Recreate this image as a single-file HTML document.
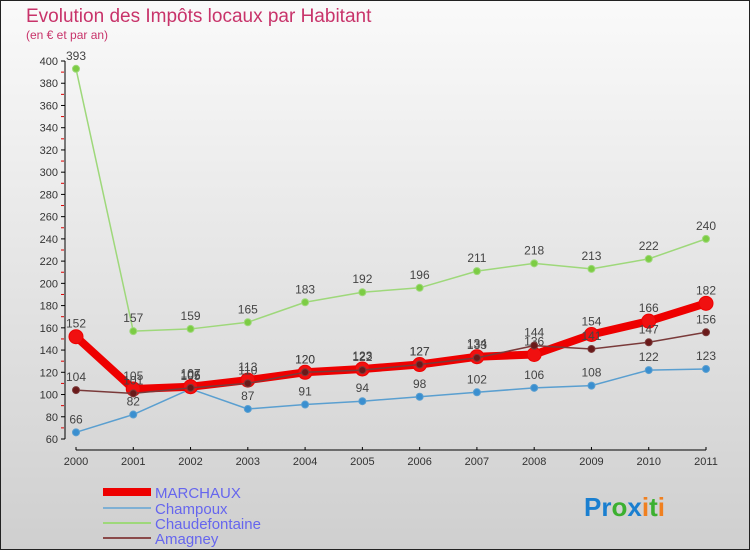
<!DOCTYPE html>
<html><head><meta charset="utf-8"><style>
html,body{margin:0;padding:0}
body{width:750px;height:550px;overflow:hidden;font-family:"Liberation Sans",sans-serif}
svg text{font-family:"Liberation Sans",sans-serif}
</style></head><body>
<svg id="chart" width="750" height="550" xmlns="http://www.w3.org/2000/svg">
<defs><linearGradient id="bg" x1="0" y1="0" x2="0" y2="1"><stop offset="0" stop-color="#fafafa"/><stop offset="1" stop-color="#cfcfcf"/></linearGradient></defs>
<rect x="0.5" y="0.5" width="749" height="549" fill="url(#bg)" stroke="#222" stroke-width="1"/>
<text x="26" y="22" font-size="19" fill="#c8336a">Evolution des Impôts locaux par Habitant</text>
<text x="26" y="39" font-size="12" fill="#c8336a">(en € et par an)</text>
<g id="axes"></g>
<g id="series"></g>
<g id="legend">
<line x1="103" y1="492" x2="151" y2="492" stroke="#e00" stroke-width="8"/>
<text x="155" y="498" font-size="15" fill="#6666ee">MARCHAUX</text>
<line x1="103" y1="508" x2="151" y2="508" stroke="#7fb0d4" stroke-width="2"/>
<text x="155" y="514" font-size="15" fill="#6666ee">Champoux</text>
<line x1="103" y1="523" x2="151" y2="523" stroke="#9ed87a" stroke-width="2"/>
<text x="155" y="529" font-size="15" fill="#6666ee">Chaudefontaine</text>
<line x1="103" y1="538" x2="151" y2="538" stroke="#8a4a4a" stroke-width="2"/>
<text x="155" y="544" font-size="15" fill="#6666ee">Amagney</text>
</g>
<text x="584" y="516" font-size="26" font-weight="bold"><tspan fill="#1a7fd0">Pr</tspan><tspan fill="#3cb030">o</tspan><tspan fill="#1a7fd0">x</tspan><tspan fill="#f08020">i</tspan><tspan fill="#3cb030">t</tspan><tspan fill="#f08020">i</tspan></text>
</svg>
<script>
const years=["2000","2001","2002","2003","2004","2005","2006","2007","2008","2009","2010","2011"];
const yTicks=[60,80,100,120,140,160,180,200,220,240,260,280,300,320,340,360,380,400];
const marchaux=[152,105,107,113,120,123,127,134,136,154,166,182];
const champoux=[66,82,105,87,91,94,98,102,106,108,122,123];
const chaudefontaine=[393,157,159,165,183,192,196,211,218,213,222,240];
const amagney=[104,101,106,110,120,122,127,133,144,141,147,156];
const NS="http://www.w3.org/2000/svg";
function x(i){return 76+i*(630/(years.length-1));}
function y(v){return 439-(v-60)*(378/340);}
function mk(tag,attrs,parent){const e=document.createElementNS(NS,tag);for(const k in attrs)e.setAttribute(k,attrs[k]);parent.appendChild(e);return e;}
const axes=document.getElementById('axes');
const ya=mk('line',{x1:65,y1:y(400),x2:65,y2:y(60),stroke:'#000','stroke-width':1},axes);


yTicks.forEach(t=>{
  const tl=mk('line',{x1:61,y1:y(t),x2:65,y2:y(t),stroke:'#000'},axes);
  
  
  if(t<400){const m=mk('line',{x1:61,y1:y(t+10),x2:64,y2:y(t+10),stroke:'#d00'},axes);
  
  }
  const tx=mk('text',{x:58,y:y(t)+4,'font-size':11,fill:'#333','text-anchor':'end'},axes);
  tx.textContent=t;
  
  
});
const xa=mk('line',{x1:x(0),y1:450,x2:x(11),y2:450,stroke:'#000'},axes);


years.forEach((yr,i)=>{
  const tl=mk('line',{x1:x(i),y1:447,x2:x(i),y2:450,stroke:'#000'},axes);
  
  
  const tx=mk('text',{x:x(i),y:465,'font-size':11,fill:'#333','text-anchor':'middle'},axes);
  tx.textContent=yr;
  
  
});
const sg=document.getElementById('series');
function draw(name,vals,color,dot,w,r){
  const g=mk('g',{},sg);
  
  
  const p=mk('polyline',{points:vals.map((v,i)=>x(i)+','+y(v)).join(' '),fill:'none',stroke:color,'stroke-width':w,'stroke-linejoin':'round'},g);
  
  
  vals.forEach((v,i)=>{
    const c=mk('circle',{cx:x(i),cy:y(v),r:r,fill:dot,stroke:color,'stroke-width':1},g);
    
    
    const t=mk('text',{x:x(i),y:y(v)-9,'font-size':12,fill:'#444','text-anchor':'middle'},g);
    t.textContent=v;
    
    
  });
}
draw('champoux',champoux,'#5a9fd0','#3a8fd0',1.5,3.5);
draw('chaudefontaine',chaudefontaine,'#9ed87a','#7ccc44',1.5,3.5);
draw('marchaux',marchaux,'#ee0000','#f01010',8,7);
draw('amagney',amagney,'#7a3a3a','#6a1a1a',1.5,3.5);
</script>
</body></html>
